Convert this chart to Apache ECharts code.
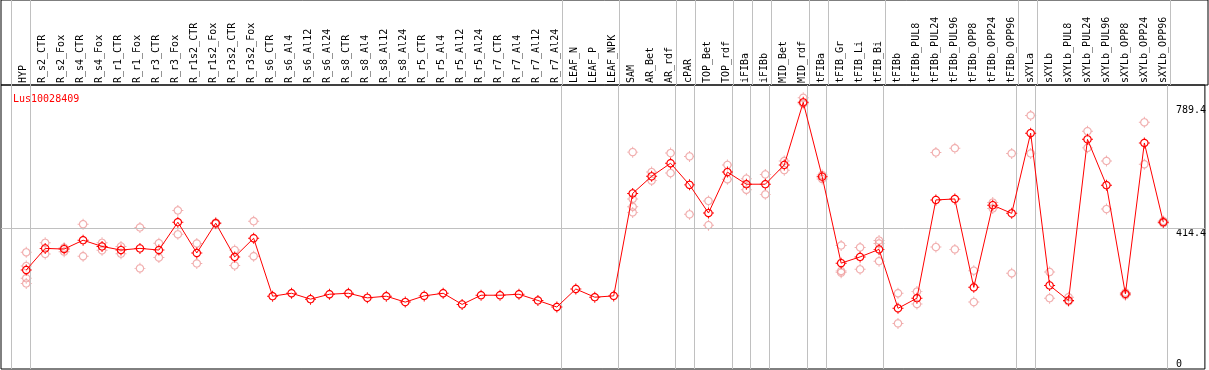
<!DOCTYPE html>
<html>
<head>
<meta charset="utf-8">
<script src="https://cdn.jsdelivr.net/npm/echarts@6/dist/echarts.min.js"></script>
<style>
html,body{margin:0;padding:0;background:#fff;}
#chart{width:1209px;height:370px;}
</style>
</head>
<body>
<div id="chart"></div>
<script>
// ---- data ----
var title = 'Lus10028409';
var categories = ['HYP','R_s2_CTR','R_s2_Fox','R_s4_CTR','R_s4_Fox','R_r1_CTR','R_r1_Fox','R_r3_CTR','R_r3_Fox',
  'R_r1s2_CTR','R_r1s2_Fox','R_r3s2_CTR','R_r3s2_Fox','R_s6_CTR','R_s6_Al4','R_s6_Al12','R_s6_Al24',
  'R_s8_CTR','R_s8_Al4','R_s8_Al12','R_s8_Al24','R_r5_CTR','R_r5_Al4','R_r5_Al12','R_r5_Al24',
  'R_r7_CTR','R_r7_Al4','R_r7_Al12','R_r7_Al24','LEAF_N','LEAF_P','LEAF_NPK','SAM','AR_Bet','AR_rdf',
  'cPAR','TOP_Bet','TOP_rdf','iFIBa','iFIBb','MID_Bet','MID_rdf','tFIBa','tFIB_Gr','tFIB_Li','tFIB_Bi',
  'tFIBb','tFIBb_PUL8','tFIBb_PUL24','tFIBb_PUL96','tFIBb_OPP8','tFIBb_OPP24','tFIBb_OPP96',
  'sXYLa','sXYLb','sXYLb_PUL8','sXYLb_PUL24','sXYLb_PUL96','sXYLb_OPP8','sXYLb_OPP24','sXYLb_OPP96'];
var means = [287,353,351,378,359,348,353,348,433,339,430,327,384,207,216,198,213,216,202,207,189,208,216,182,
  210,210,213,194,174,229,204,208,521,573,613,547,461,586,549,549,608,799,572,308,327,350,170,201,501,504,
  234,485,460,705,240,194,686,546,214,675,433];
var N = null;
var rep1 = [341,370,355,427,370,359,417,369,469,368,428,348,436,N,N,N,N,N,N,N,N,N,N,N,N,N,N,N,N,N,N,N,
  647,586,644,634,498,608,566,579,620,813,577,362,356,377,216,221,646,659,285,493,643,759,281,204,711,620,218,738,437];
var rep2 = [299,336,343,329,347,337,292,325,396,307,432,301,329,N,N,N,N,N,N,N,N,N,N,N,N,N,N,N,N,N,N,N,
  504,560,583,457,424,564,532,518,592,795,565,284,289,368,124,183,357,350,189,475,277,643,201,191,660,473,210,610,430];
var rep3 = [262,N,N,N,N,N,N,N,N,N,N,N,N,N,N,N,N,N,N,N,N,N,N,N,N,N,N,N,N,N,N,N,
  480,N,N,N,N,N,N,N,N,N,N,279,N,314,N,N,N,N,N,N,N,N,N,N,N,N,N,N,N];
var rep4 = [246,N,N,N,N,N,N,N,N,N,N,N,N,N,N,N,N,N,N,N,N,N,N,N,N,N,N,N,N,N,N,N,
  463,N,N,N,N,N,N,N,N,N,N,N,N,N,N,N,N,N,N,N,N,N,N,N,N,N,N,N,N];
// group separators are drawn after these category indices
var groupEnds = [-1,0,28,31,34,35,37,38,39,41,42,45,52,53,60];
var yTickValues = [414.4, 789.4];
var yTickLabels = ['414.4', '789.4'];
var yZeroValue = [0];
var yZeroLabel = ['0'];
var gridValue = 414.4;

// ---- layout ----
var XMIN = -1.3316, XMAX = 62.195;
var YMIN = -15.3, YMAX = 852;
var FONT = 'DejaVu Sans Mono';
var RED = '#ff0000', PALE = '#ee9a9a', SEP = '#c0c0c0';

// ring-with-ticks marker shape (unit coordinates)
function ring(r, reverse){
  var n = 32, s = '';
  for (var k = 0; k <= n; k++) {
    var a = (reverse ? -1 : 1) * k / n * Math.PI * 2;
    var x = (r * Math.cos(a)).toFixed(3), y = (r * Math.sin(a)).toFixed(3);
    s += (k === 0 ? 'M' : 'L') + x + ',' + y;
  }
  return s + 'Z';
}
var sym = 'path://' + ring(4.3, false) + ring(3.1, true) +
  'M-0.5,-5.6L0.5,-5.6L0.5,-4L-0.5,-4ZM-0.5,4L0.5,4L0.5,5.6L-0.5,5.6Z' +
  'M-5.6,-0.5L-4,-0.5L-4,0.5L-5.6,0.5ZM4,-0.5L5.6,-0.5L5.6,0.5L4,0.5Z';

function pts(arr){
  var out = [];
  arr.forEach(function(v,i){ if (v !== null) out.push([i, v]); });
  return out;
}
var sepLines = groupEnds.map(function(i){ return {xAxis: i + 0.23}; });
var markSep = {
  silent: true, symbol: ['none','none'], animation: false,
  label: {show: false},
  lineStyle: {color: SEP, width: 1, type: 'solid'},
  data: sepLines
};
var markGrid = {
  silent: true, symbol: ['none','none'], animation: false,
  label: {show: false},
  lineStyle: {color: SEP, width: 1, type: 'solid'},
  data: sepLines.concat([{yAxis: gridValue}])
};

var repSeries = [rep1, rep2, rep3, rep4].map(function(r){
  return {
    type: 'scatter', xAxisIndex: 1, yAxisIndex: 1, z: 2,
    symbol: sym, symbolSize: 11,
    itemStyle: {color: PALE},
    data: pts(r), silent: true
  };
});

var chart = echarts.init(document.getElementById('chart'));
chart.setOption({
  animation: false,
  backgroundColor: '#fff',
  title: {
    text: title, left: 8, top: 89,
    textStyle: {color: RED, fontSize: 10, fontWeight: 'normal', fontFamily: FONT}
  },
  grid: [
    {left: 1, right: 1, top: 0, height: 85, show: true, borderColor: '#000', borderWidth: 1, backgroundColor: 'transparent'},
    {left: 1, right: 1, top: 85, bottom: 1, show: true, borderColor: '#000', borderWidth: 1, backgroundColor: 'transparent'}
  ],
  xAxis: [
    {
      type: 'value', gridIndex: 0, min: XMIN, max: XMAX, position: 'bottom',
      axisLine: {show: false}, axisTick: {show: false}, splitLine: {show: false},
      axisLabel: {
        show: true, inside: true, rotate: 90, margin: 2,
        align: 'left', verticalAlign: 'middle',
        fontFamily: FONT, fontSize: 10, color: '#000',
        customValues: categories.map(function(c, i){ return i - 0.17; }),
        formatter: function(v){ return categories[Math.round(v)] || ''; },
        hideOverlap: false
      }
    },
    {
      type: 'value', gridIndex: 1, min: XMIN, max: XMAX,
      axisLine: {show: false}, axisTick: {show: false}, splitLine: {show: false}, axisLabel: {show: false}
    }
  ],
  yAxis: [
    {type: 'value', gridIndex: 0, min: 0, max: 1, show: false},
    {
      type: 'value', gridIndex: 1, min: YMIN, max: YMAX, position: 'right',
      axisLine: {show: false}, axisTick: {show: false}, splitLine: {show: false},
      axisLabel: {
        inside: true, margin: 29, align: 'left', verticalAlign: 'top',
        fontFamily: FONT, fontSize: 10, color: '#000',
        customValues: yTickValues,
        formatter: function(v){ var k = yTickValues.indexOf(v); return k >= 0 ? yTickLabels[k] : ''; }
      }
    },
    {
      type: 'value', gridIndex: 1, min: YMIN, max: YMAX, position: 'right',
      axisLine: {show: false}, axisTick: {show: false}, splitLine: {show: false},
      axisLabel: {
        inside: true, margin: 29, align: 'left', verticalAlign: 'middle',
        fontFamily: FONT, fontSize: 10, color: '#000',
        customValues: yZeroValue,
        formatter: function(v){ var k = yZeroValue.indexOf(v); return k >= 0 ? yZeroLabel[k] : ''; }
      }
    }
  ],
  series: [
    {type: 'line', xAxisIndex: 0, yAxisIndex: 0, data: [], markLine: markSep, silent: true},
    {type: 'line', xAxisIndex: 1, yAxisIndex: 2, data: [], markLine: markGrid, silent: true, z: 1}
  ].concat(repSeries).concat([
    {
      type: 'line', xAxisIndex: 1, yAxisIndex: 1, z: 5,
      data: pts(means),
      symbol: sym, symbolSize: 11, showAllSymbol: true,
      itemStyle: {color: RED},
      lineStyle: {color: RED, width: 1},
      silent: true
    }
  ])
});
</script>
</body>
</html>
